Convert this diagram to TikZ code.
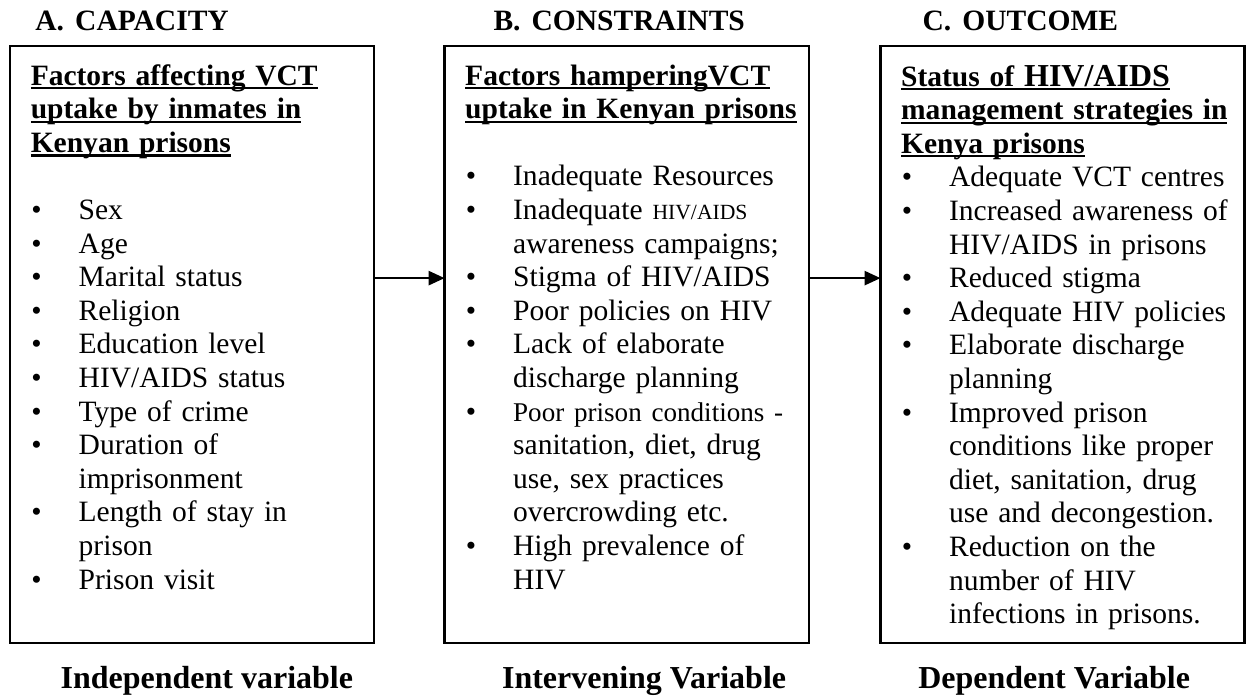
\documentclass[tikz,border=0pt]{standalone}
\usepackage{fontspec}
\setmainfont{Liberation Serif}
\usetikzlibrary{arrows.meta, positioning}

% underline that runs close to the baseline
\newcommand{\hul}[1]{\setbox0\hbox{#1}\rlap{\rule[-1.7pt]{\wd0}{0.9pt}}\box0}
\newcommand{\bul}{\makebox[19.5pt][l]{\hspace{0.3pt}\textbullet}}
\newcommand{\cont}{\hspace*{19.5pt}}

\begin{document}
\begin{tikzpicture}[
  frame/.style={draw, line width=0.9pt, minimum width=148pt, minimum height=242.7pt, inner sep=0pt, outer sep=0pt},
  listtext/.style={anchor=base west, inner sep=0pt, text width=139pt, align=left, font=\fontsize{12}{13.66}\selectfont},
  head/.style={anchor=base west, inner sep=0pt, font=\bfseries\fontsize{12}{14}\selectfont},
  varlabel/.style={anchor=base, inner sep=0pt, font=\bfseries\fontsize{13}{15}\selectfont},
  flow/.style={-{Triangle[length=6.5pt, width=5.8pt]}, line width=0.8pt}
]
\useasboundingbox (0,0) rectangle (507.7pt,-283.7pt);

% Boxes
\node[frame, anchor=north west] (capbox) at (4.1pt,-18.7pt) {};
\node[frame, right=28.6pt of capbox] (conbox) {};
\node[frame, right=29.2pt of conbox] (outbox) {};

% Headings
\node[head] (capttl) at (14.2pt,-12.2pt) {A.\hspace{4.5pt}CAPACITY};
\node[head] (conttl) at (200.4pt,-12.2pt) {B.\hspace{4.5pt}CONSTRAINTS};
\node[head] (outttl) at (374.8pt,-12.2pt) {C.\hspace{4.5pt}OUTCOME};

% Box contents
\node[listtext] (captext) at ([shift={(8.2pt,-15.9pt)}]capbox.north west)
{\textbf{\hul{Factors affecting VCT}}\\
 \textbf{\hul{uptake by inmates in}}\\
 \textbf{\hul{Kenyan prisons}}\\[13.66pt]
 \bul Sex\\
 \bul Age\\
 \bul Marital status\\
 \bul Religion\\
 \bul Education level\\
 \bul HIV/AIDS status\\
 \bul Type of crime\\
 \bul Duration of\\
 \cont imprisonment\\
 \bul Length of stay in\\
 \cont prison\\
 \bul Prison visit};

\node[listtext] (context) at ([shift={(8.2pt,-15.9pt)}]conbox.north west)
{\textbf{\hul{Factors hamperingVCT}}\\
 \textbf{\hul{uptake in Kenyan prisons}}\\[13.66pt]
 \bul Inadequate Resources\\
 \bul Inadequate {\fontsize{8.8}{13.66}\selectfont HIV/AIDS}\\
 \cont awareness campaigns;\\
 \bul Stigma of HIV/AIDS\\
 \bul Poor policies on HIV\\
 \bul Lack of elaborate\\
 \cont discharge planning\\
 \bul {\fontsize{11}{13.66}\selectfont Poor prison conditions -}\\
 \cont sanitation, diet, drug\\
 \cont use, sex practices\\
 \cont overcrowding etc.\\
 \bul High prevalence of\\
 \cont HIV};

\node[listtext] (outtext) at ([shift={(8.2pt,-16.3pt)}]outbox.north west)
{\textbf{\hul{Status of {\fontsize{13}{13.66}\selectfont HIV/AIDS}}}\\
 \textbf{\hul{management strategies in}}\\
 \textbf{\hul{Kenya prisons}}\\
 \bul Adequate VCT centres\\
 \bul Increased awareness of\\
 \cont HIV/AIDS in prisons\\
 \bul Reduced stigma\\
 \bul Adequate HIV policies\\
 \bul Elaborate discharge\\
 \cont planning\\
 \bul Improved prison\\
 \cont conditions like proper\\
 \cont diet, sanitation, drug\\
 \cont use and decongestion.\\
 \bul Reduction on the\\
 \cont number of HIV\\
 \cont infections in prisons.};

% Arrows
\draw[flow] ([yshift=27pt]capbox.east) -- ([yshift=27pt]conbox.west);
\draw[flow] ([yshift=27pt]conbox.east) -- ([yshift=27pt]outbox.west);

% Variable labels
\node[varlabel] (indep) at (84.1pt,-279.7pt) {Independent variable};
\node[varlabel] (interv) at (261.8pt,-279.7pt) {Intervening Variable};
\node[varlabel] (depend) at (428.5pt,-279.7pt) {Dependent Variable};

\end{tikzpicture}
\end{document}
